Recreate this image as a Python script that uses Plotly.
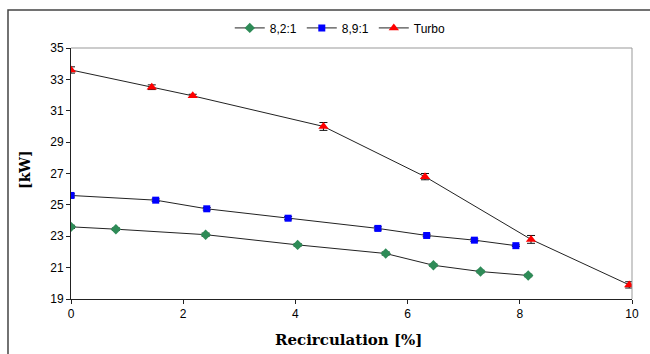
import plotly.graph_objects as go

# Data
x_821 = [0, 0.8, 2.4, 4.04, 5.61, 6.46, 7.3, 8.15]
y_821 = [23.6, 23.45, 23.1, 22.45, 21.9, 21.15, 20.75, 20.5]
e_821 = [0.1, 0.08, 0.1, 0.08, 0.1, 0.08, 0.08, 0.08]

x_891 = [0, 1.51, 2.42, 3.87, 5.47, 6.34, 7.19, 7.93]
y_891 = [25.6, 25.3, 24.75, 24.15, 23.5, 23.05, 22.75, 22.4]
e_891 = [0.1, 0.08, 0.08, 0.1, 0.1, 0.08, 0.08, 0.05]

x_turbo = [0, 1.44, 2.17, 4.5, 6.31, 8.2, 9.95]
y_turbo = [33.6, 32.5, 31.95, 30.0, 26.8, 22.8, 19.9]
e_turbo = [0.2, 0.15, 0.1, 0.25, 0.2, 0.25, 0.2]

y_ticks = [19, 21, 23, 25, 27, 29, 31, 33, 35]
x_ticks = [0, 2, 4, 6, 8, 10]

series = [
    ("8,2:1", x_821, y_821, e_821, "#2E8B57", "diamond", 8),
    ("8,9:1", x_891, y_891, e_891, "#0000FF", "square", 7),
    ("Turbo", x_turbo, y_turbo, e_turbo, "#FF0000", "triangle-up", 9),
]

fig = go.Figure()
for name, xs, ys, es, col, sym, sz in series:
    fig.add_trace(go.Scatter(
        x=xs, y=ys, name=name, mode="lines+markers",
        line=dict(color="#222222", width=1),
        marker=dict(color=col, symbol=sym, size=sz, line=dict(width=0)),
        error_y=dict(type="data", array=es, visible=True, color="#111111",
                     thickness=1, width=4),
    ))

axis_font = dict(family="Arial, Liberation Sans, sans-serif", size=12, color="#000000")
title_font = dict(family="DejaVu Serif, serif", size=15, color="#000")

fig.update_layout(
    width=650, height=354,
    margin=dict(l=71, r=18, t=48, b=55),
    paper_bgcolor="white", plot_bgcolor="white",
    showlegend=True,
    legend=dict(orientation="h", x=0.48, xanchor="center", y=1.08, yanchor="middle",
                font=dict(family="Arial, Liberation Sans, sans-serif", size=12, color="#000"),
                bgcolor="rgba(0,0,0,0)", itemwidth=30, tracegroupgap=0),
    xaxis=dict(range=[0, 10], tickvals=x_ticks, showgrid=False, zeroline=False,
               showline=True, linecolor="#222222", linewidth=1,
               ticks="outside", ticklen=4, tickcolor="#222222",
               tickfont=axis_font),
    yaxis=dict(range=[19, 35], tickvals=y_ticks, showgrid=False, zeroline=False,
               showline=True, linecolor="#222222", linewidth=1,
               ticks="outside", ticklen=4, tickcolor="#222222",
               tickfont=axis_font),
    shapes=[
        dict(type="line", xref="paper", yref="paper", x0=0, x1=1, y0=1, y1=1,
             line=dict(color="#999999", width=1)),
        dict(type="line", xref="paper", yref="paper", x0=1, x1=1, y0=0, y1=1,
             line=dict(color="#999999", width=1)),
        dict(type="rect", xref="paper", yref="paper", x0=-0.1123, x1=1.2,
             y0=-0.4, y1=1.151, line=dict(color="#444444", width=1.5),
             fillcolor="rgba(0,0,0,0)", layer="below"),
    ],
    annotations=[
        dict(text="<b>Recirculation [%]</b>", xref="paper", yref="paper",
             x=0.495, y=-0.163, xanchor="center", yanchor="middle", showarrow=False,
             font=title_font),
        dict(text="<b>[kW]</b>", xref="paper", yref="paper", textangle=-90,
             x=-0.082, y=0.518, xanchor="center", yanchor="middle", showarrow=False,
             font=dict(family="DejaVu Serif, serif", size=14, color="#000")),
    ],
)

fig.write_html("out.html")
